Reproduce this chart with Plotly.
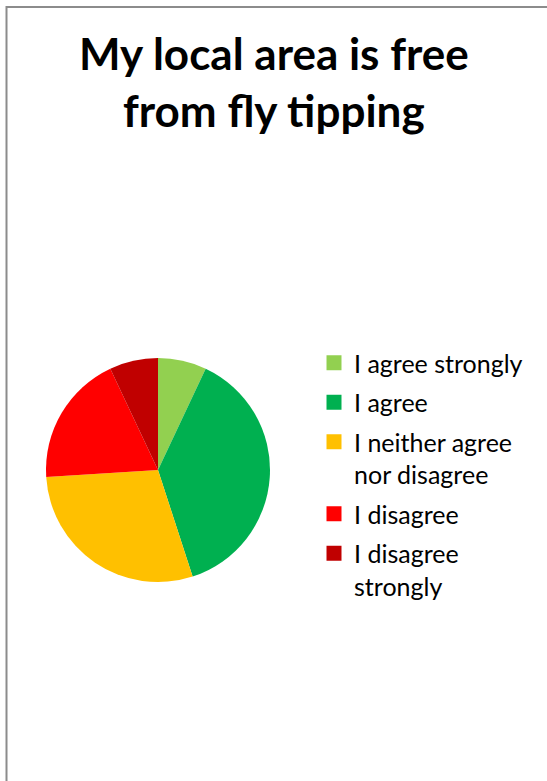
import plotly.graph_objects as go

# Survey responses (share of respondents, %)
labels = [
    "I agree strongly",
    "I agree",
    "I neither agree<br>nor disagree",
    "I disagree",
    "I disagree<br>strongly",
]
values = [7, 38, 29, 19, 7]
colors = ["#92D050", "#00B050", "#FFC000", "#FF0000", "#C00000"]

title_text = "My local area is free<br>from fly tipping"

W, H = 547, 781
FONT = "Lato, Calibri, sans-serif"

fig = go.Figure()

fig.add_trace(
    go.Pie(
        labels=labels,
        values=values,
        marker=dict(colors=colors, line=dict(width=0)),
        sort=False,
        direction="clockwise",
        rotation=0,
        textinfo="none",
        hoverinfo="label+percent",
        showlegend=False,
        domain=dict(x=[46 / W, 270 / W], y=[(H - 582) / H, (H - 358) / H]),
    )
)

# Legend entries, one group each so the gap between items can be set
for name, col in zip(labels, colors):
    fig.add_trace(
        go.Scatter(
            x=[None],
            y=[None],
            mode="markers",
            name=name,
            legendgroup=name,
            marker=dict(symbol="square", size=15, color=col, line=dict(width=0)),
            hoverinfo="skip",
        )
    )

fig.update_layout(
    width=W,
    height=H,
    margin=dict(l=0, r=0, t=0, b=0),
    paper_bgcolor="white",
    plot_bgcolor="white",
    font=dict(family=FONT, color="#000000"),
    xaxis=dict(visible=False),
    yaxis=dict(visible=False),
    showlegend=True,
    legend=dict(
        x=314 / W,
        xanchor="left",
        y=1 - 340 / H,
        yanchor="top",
        font=dict(size=25, family=FONT, color="#000000"),
        itemsizing="trace",
        valign="top",
        tracegroupgap=4,
        bgcolor="rgba(0,0,0,0)",
    ),
    annotations=[
        dict(
            text="<b>" + title_text + "</b>",
            x=0.5,
            xref="paper",
            xanchor="center",
            y=1 - 25 / H,
            yref="paper",
            yanchor="top",
            showarrow=False,
            align="center",
            font=dict(size=44, family=FONT, color="#000000"),
        )
    ],
    shapes=[
        dict(
            type="rect",
            xref="paper",
            yref="paper",
            x0=6.5 / W,
            x1=1.05,
            y0=-0.05,
            y1=1 - 7 / H,
            line=dict(color="#8C8C8C", width=2),
            fillcolor="rgba(0,0,0,0)",
            layer="below",
        )
    ],
)

fig.write_html("out.html")
